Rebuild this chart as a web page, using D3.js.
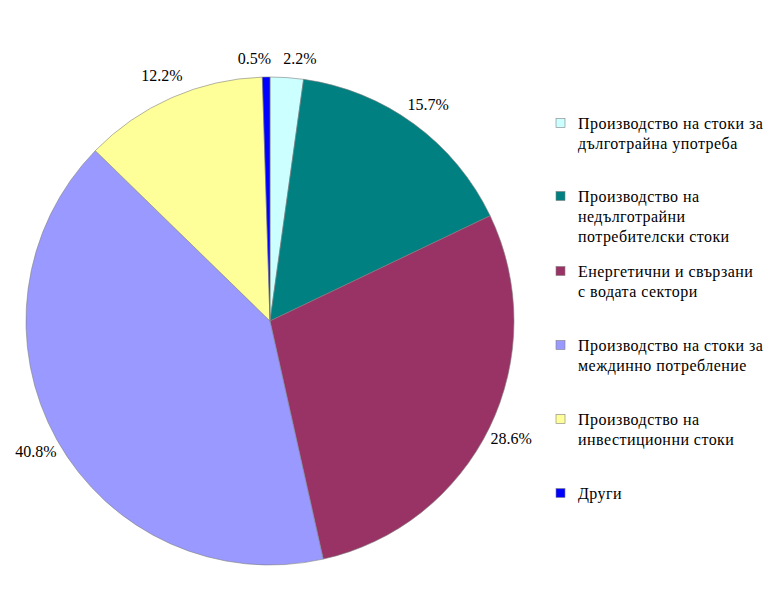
<!DOCTYPE html>
<html>
<head>
<meta charset="utf-8">
<script src="https://cdn.jsdelivr.net/npm/d3@7"></script>
<style>
  body { margin: 0; background: #fff; }
</style>
</head>
<body>
<div id="chart"></div>
<script>
// slices go clockwise from 12 o'clock
const categories = [
  'Производство на стоки за дълготрайна употреба',
  'Производство на недълготрайни потребителски стоки',
  'Енергетични и свързани с водата сектори',
  'Производство на стоки за междинно потребление',
  'Производство на инвестиционни стоки',
  'Други'
];
// legend text split into lines as in the original
const legendLines = [
  ['Производство на стоки за', 'дълготрайна употреба'],
  ['Производство на', 'недълготрайни', 'потребителски стоки'],
  ['Енергетични и свързани', 'с водата сектори'],
  ['Производство на стоки за', 'междинно потребление'],
  ['Производство на', 'инвестиционни стоки'],
  ['Други']
];
const shares = [2.2, 15.7, 28.6, 40.8, 12.2, 0.5];
const colors = ['#ccffff', '#008080', '#993366', '#9999ff', '#ffff99', '#0000ff'];

const width = 780, height = 598;
const cx = 270, cy = 321, radius = 244;
const font = '"Liberation Serif"';

const svg = d3.select('#chart').append('svg')
  .attr('width', width)
  .attr('height', height);

const pie = d3.pie().sort(null).value(d => d);
const arcs = pie(shares);

const arc = d3.arc().innerRadius(0).outerRadius(radius);
const labelArc = d3.arc().innerRadius(268).outerRadius(268);

const g = svg.append('g').attr('transform', `translate(${cx},${cy})`);

g.selectAll('path')
  .data(arcs)
  .enter()
  .append('path')
    .attr('d', arc)
    .attr('fill', (d, i) => colors[i])
    .attr('stroke', '#808080')
    .attr('stroke-width', 0.6);

// labels outside the pie
const labels = arcs.map((d, i) => {
  const [x, y] = labelArc.centroid(d);
  return { x: x, y: y, text: shares[i].toFixed(1) + '%' };
});

const labelSel = g.selectAll('text.pct')
  .data(labels)
  .enter()
  .append('text')
    .attr('class', 'pct')
    .attr('x', d => d.x)
    .attr('y', d => d.y)
    .attr('text-anchor', 'middle')
    .attr('dominant-baseline', 'central')
    .attr('fill', '#000')
    .attr('font-family', font)
    .attr('font-size', 16)
    .text(d => d.text);

// push apart the two tiny labels near the top (last and first slice)
const nodes = labelSel.nodes();
const a = labels[labels.length - 1], b = labels[0];
const wa = nodes[nodes.length - 1].getComputedTextLength();
const wb = nodes[0].getComputedTextLength();
const need = wa / 2 + wb / 2 + 12;
if (b.x - a.x < need) {
  const mid = (a.x + b.x) / 2;
  a.x = mid - need / 2;
  b.x = mid + need / 2;
  a.y = b.y = Math.min(a.y, b.y) + 5;
}
labelSel.attr('x', d => d.x).attr('y', d => d.y);

// legend
const legend = svg.append('g').attr('transform', 'translate(556,0)');
const itemY = [123, 196, 271, 345, 419, 493];
const lineH = 20;

const items = legend.selectAll('g.item')
  .data(categories)
  .enter()
  .append('g')
    .attr('class', 'item')
    .attr('transform', (d, i) => `translate(0,${itemY[i]})`);

items.append('rect')
  .attr('x', 0)
  .attr('y', -4.5)
  .attr('width', 9)
  .attr('height', 9)
  .attr('fill', (d, i) => colors[i])
  .attr('stroke', '#808080')
  .attr('stroke-width', 0.6);

items.each(function(d, i) {
  const t = d3.select(this).append('text')
    .attr('x', 22)
    .attr('y', 0)
    .attr('fill', '#000')
    .attr('font-family', font)
    .attr('font-size', 16)
    .attr('letter-spacing', 0.45);
  legendLines[i].forEach((line, j) => {
    t.append('tspan')
      .attr('x', 22)
      .attr('y', j * lineH)
      .attr('dominant-baseline', 'central')
      .text(line);
  });
});
</script>
</body>
</html>
